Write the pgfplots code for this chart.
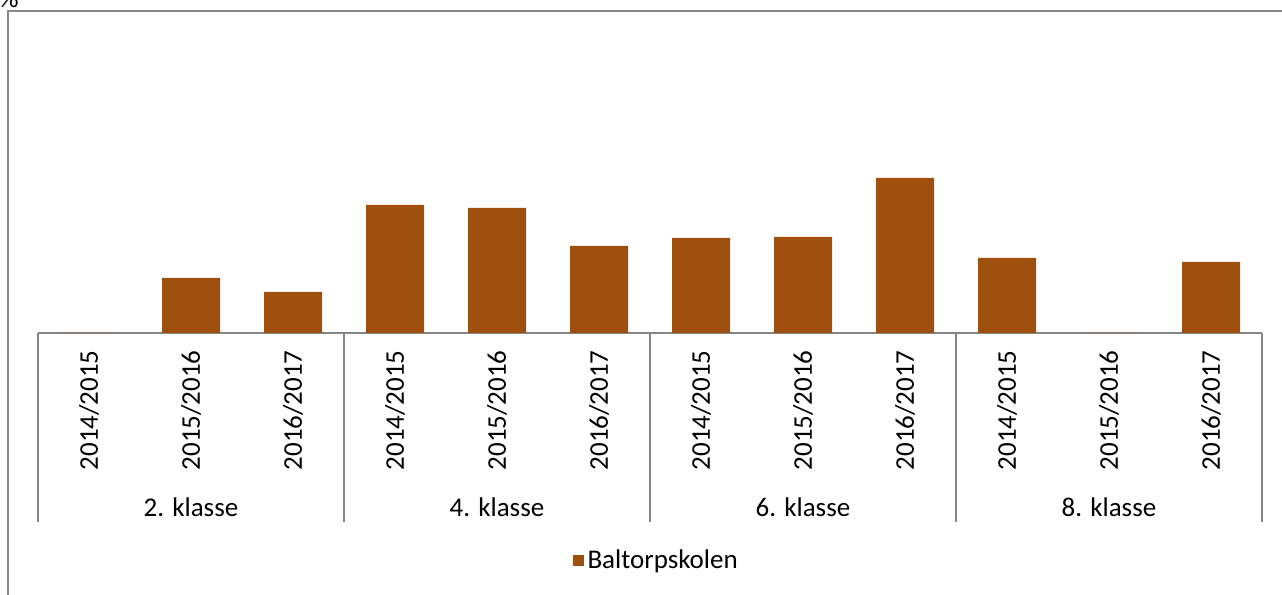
\documentclass[border=0pt]{standalone}
\usepackage{pgfplots}
\pgfplotsset{compat=1.18}
\usepackage{fontspec}
\setmainfont{Carlito}
\definecolor{barbrown}{RGB}{160,80,14}
\definecolor{framegray}{RGB}{134,134,134}

\begin{document}
\begin{tikzpicture}
\path[use as bounding box] (0pt,0pt) rectangle (641pt,297.5pt);
% outer chart frame (only top and left visible)
\draw[framegray,line width=1pt] (4pt,0pt) -- (4pt,292pt) -- (645pt,292pt);
\node[anchor=south west,inner sep=0pt,font=\fontsize{13.5}{16}\selectfont] at (-0.5pt,293.5pt) {\%};
\begin{axis}[
  at={(19pt,131pt)}, anchor=south west,
  scale only axis, width=612pt, height=156.5pt,
  xmin=-0.5, xmax=11.5, ymin=0, ymax=313,
  axis y line=none, axis x line*=bottom,
  x axis line style={framegray,line width=1pt,-},
  clip=false,
  xtick={0,...,11}, major tick length=0pt,
  xticklabels={2014/2015,2015/2016,2016/2017,2014/2015,2015/2016,2016/2017,
               2014/2015,2015/2016,2016/2017,2014/2015,2015/2016,2016/2017},
  xticklabel shift=8.5pt,
  xticklabel style={rotate=90, anchor=east, inner sep=0pt,
                    font=\fontsize{13.5}{16}\selectfont},
  ybar, bar width=29pt,
  legend style={at={(axis cs:5.57,-228)}, anchor=center, draw=none,
                font=\fontsize{13.5}{16}\selectfont, inner sep=0pt},
  legend image code/.code={\fill[#1] (0pt,-2.75pt) rectangle (5.5pt,2.75pt);},
]
\addplot[fill=barbrown, draw=none] coordinates {
  (0,0) (1,55) (2,41)
  (3,128) (4,125) (5,87)
  (6,95) (7,96) (8,155)
  (9,75) (10,0) (11,71)
};
\addlegendentry{Baltorpskolen}
\pgfplotsinvokeforeach{-0.5,2.5,5.5,8.5,11.5}{
  \draw[framegray,line width=1pt] (axis cs:#1,0) -- (axis cs:#1,-189);
}
\node[font=\fontsize{13.5}{16}\selectfont] at (axis cs:1,-174) {2. klasse};
\node[font=\fontsize{13.5}{16}\selectfont] at (axis cs:4,-174) {4. klasse};
\node[font=\fontsize{13.5}{16}\selectfont] at (axis cs:7,-174) {6. klasse};
\node[font=\fontsize{13.5}{16}\selectfont] at (axis cs:10,-174) {8. klasse};
\end{axis}
\end{tikzpicture}
\end{document}
